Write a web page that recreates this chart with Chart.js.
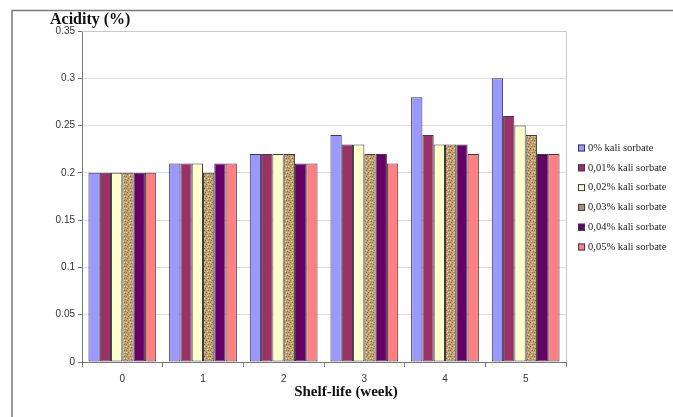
<!DOCTYPE html>
<html>
<head>
<meta charset="utf-8">
<script src="https://cdn.jsdelivr.net/npm/chart.js@4"></script>
<style>
  body { margin: 0; background: #fff; }
  #wrap { width: 673px; height: 417px; }
</style>
</head>
<body>
<div id="wrap"><canvas id="acidChart" width="673" height="417"></canvas></div>
<script>
var weeks = ['0', '1', '2', '3', '4', '5'];
var seriesNames = ['0% kali sorbate', '0,01% kali sorbate', '0,02% kali sorbate',
                   '0,03% kali sorbate', '0,04% kali sorbate', '0,05% kali sorbate'];
var s0 = [0.20, 0.21, 0.22, 0.24, 0.28, 0.30];
var s1 = [0.20, 0.21, 0.22, 0.23, 0.24, 0.26];
var s2 = [0.20, 0.21, 0.22, 0.23, 0.23, 0.25];
var s3 = [0.20, 0.20, 0.22, 0.22, 0.23, 0.24];
var s4 = [0.20, 0.21, 0.21, 0.22, 0.23, 0.22];
var s5 = [0.20, 0.21, 0.21, 0.21, 0.22, 0.22];
var yTicks = [0, 0.05, 0.1, 0.15, 0.2, 0.25, 0.3, 0.35];

// tan speckled fill for the 0,03% series
function makeTan() {
    var c = document.createElement('canvas');
    c.width = 6; c.height = 6;
    var g = c.getContext('2d');
    g.fillStyle = '#c2a272';
    g.fillRect(0, 0, 6, 6);
    g.fillStyle = '#86673a';
    g.fillRect(1, 0, 1, 1); g.fillRect(4, 2, 1, 1); g.fillRect(2, 4, 1, 1); g.fillRect(5, 5, 1, 1);
    g.fillRect(0, 2, 1, 1);
    g.fillStyle = '#ecd9b0';
    g.fillRect(3, 1, 1, 1); g.fillRect(0, 4, 1, 1); g.fillRect(4, 4, 1, 1);
    return document.getElementById('acidChart').getContext('2d').createPattern(c, 'repeat');
}

var fills = ['#9999ff', '#993366', '#ffffcc', makeTan(), '#660066', '#ff8080'];
var legendFills = ['#9999ff', '#993366', '#ffffcc', '#b09060', '#660066', '#ff8080'];
var allData = [s0, s1, s2, s3, s4, s5];

var datasets = allData.map(function (d, i) {
    return {
        label: seriesNames[i],
        data: d,
        backgroundColor: fills[i],
        borderColor: '#3a3a4a',
        borderWidth: 1,
        borderSkipped: false
    };
});

var decor = {
    id: 'decor',
    beforeDraw: function (chart) {
        var ctx = chart.ctx;
        ctx.save();
        ctx.fillStyle = '#fff';
        ctx.fillRect(0, 0, chart.width, chart.height);
        ctx.strokeStyle = '#7a7a7a';
        ctx.lineWidth = 1.5;
        ctx.beginPath();
        ctx.moveTo(12, 417);
        ctx.lineTo(12, 10.5);
        ctx.lineTo(673, 10.5);
        ctx.stroke();
        ctx.restore();
    },
    afterDraw: function (chart) {
        var ctx = chart.ctx;
        var a = chart.chartArea;
        ctx.save();
        // light frame on top / right of plot
        ctx.strokeStyle = '#c8c8c8';
        ctx.lineWidth = 1;
        ctx.beginPath();
        ctx.moveTo(a.left, a.top + 0.5);
        ctx.lineTo(a.right + 0.5, a.top + 0.5);
        ctx.lineTo(a.right + 0.5, a.bottom);
        ctx.stroke();

        // titles
        ctx.fillStyle = '#111';
        ctx.font = 'bold 16px "Liberation Serif", "DejaVu Serif", serif';
        ctx.textBaseline = 'alphabetic';
        ctx.textAlign = 'left';
        ctx.fillText('Acidity (%)', 50, 24);
        ctx.font = 'bold 15px "Liberation Serif", "DejaVu Serif", serif';
        ctx.textAlign = 'center';
        ctx.fillText('Shelf-life (week)', 346, 396);

        // legend
        ctx.font = '10.5px "Liberation Serif", "DejaVu Serif", serif';
        ctx.textAlign = 'left';
        ctx.textBaseline = 'middle';
        chart.data.datasets.forEach(function (ds, i) {
            var y = 148 + i * 19.8;
            ctx.fillStyle = legendFills[i];
            ctx.fillRect(578, y - 3.5, 7, 7);
            ctx.strokeStyle = '#3a3a4a';
            ctx.strokeRect(578.5, y - 3, 6, 6);
            ctx.fillStyle = '#222';
            ctx.fillText(ds.label, 588, y);
        });
        ctx.restore();
    }
};

var ctx = document.getElementById('acidChart').getContext('2d');
var chart = new Chart(ctx, {
    type: 'bar',
    data: {
        labels: weeks,
        datasets: datasets
    },
    options: {
        responsive: false,
        animation: false,
        layout: { padding: { left: 20, right: 107, top: 31, bottom: 10 } },
        plugins: {
            legend: { display: false },
            tooltip: { enabled: false }
        },
        datasets: {
            bar: { categoryPercentage: 0.84, barPercentage: 1.0 }
        },
        scales: {
            x: {
                offset: true,
                grid: {
                    offset: true,
                    drawOnChartArea: false,
                    drawTicks: true,
                    tickLength: 5,
                    tickColor: '#777'
                },
                border: { color: '#777', width: 1 },
                ticks: {
                    color: '#333',
                    font: { family: '"Liberation Sans", Arial, sans-serif', size: 10 },
                    padding: 6
                },
                afterFit: function (scale) { scale.height = 45; }
            },
            y: {
                min: 0,
                max: 0.35,
                afterBuildTicks: function (scale) {
                    scale.ticks = yTicks.map(function (v) { return { value: v }; });
                },
                grid: {
                    color: '#dcdcdc',
                    tickColor: '#777',
                    tickLength: 4
                },
                border: { color: '#777', width: 1 },
                ticks: {
                    color: '#333',
                    font: { family: '"Liberation Sans", Arial, sans-serif', size: 10 },
                    padding: 3,
                    callback: function (v) { return String(v); }
                },
                afterFit: function (scale) { scale.width = 62; }
            }
        }
    },
    plugins: [decor]
});
</script>
</body>
</html>
